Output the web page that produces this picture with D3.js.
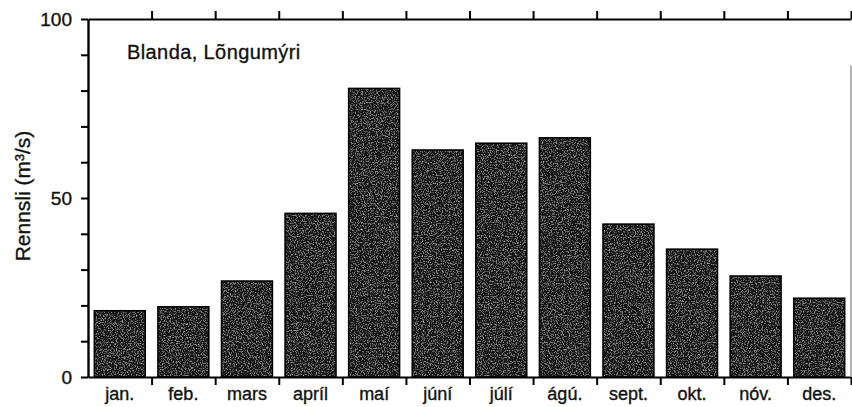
<!DOCTYPE html>
<html>
<head>
<meta charset="utf-8">
<script src="https://cdn.jsdelivr.net/npm/d3@7"></script>
<style>
  html, body { margin: 0; padding: 0; background: #fff; }
  svg { display: block; }
  text { font-family: "Liberation Sans", Arial, Helvetica, sans-serif; fill: #111; stroke: #111; stroke-width: 0.35px; }
</style>
</head>
<body>
<svg id="chart" width="852" height="407"></svg>
<script>
// Mean monthly discharge, Blanda at Löngumýri
const months = ["jan.", "feb.", "mars", "apríl", "maí", "júní", "júlí", "ágú.", "sept.", "okt.", "nóv.", "des."];
const flow = [18.5, 19.6, 26.8, 45.7, 80.6, 63.4, 65.3, 66.8, 42.7, 35.7, 28.2, 22.0];
const yTicks = [0, 10, 20, 30, 40, 50, 60, 70, 80, 90, 100];
const yLabels = [0, 50, 100];
const title = "Blanda, Lõngumýri";
const yTitle = "Rennsli (m³/s)";

const svg = d3.select("#chart");
const plotLeft = 88, plotRight = 851, plotTop = 19, plotBottom = 377;

const x = d3.scaleBand().domain(months).range([plotLeft, plotRight])
  .paddingInner(0.2).paddingOuter(0.1);
const y = d3.scaleLinear().domain([0, 100]).range([plotBottom, plotTop]);
// month boundaries for the tick marks on top and bottom edges
const xb = d3.scaleLinear().domain([0, months.length]).range([plotLeft, plotRight]);

// grainy fill for the bars
const defs = svg.append("defs");
const f = defs.append("filter").attr("id", "grain")
  .attr("x", 0).attr("y", 0).attr("width", 1).attr("height", 1);
f.append("feTurbulence").attr("type", "fractalNoise").attr("baseFrequency", 0.85)
  .attr("numOctaves", 2).attr("seed", 7).attr("result", "noise");
f.append("feColorMatrix").attr("in", "noise").attr("type", "matrix")
  .attr("values", "0 0 0 0 0.55  0 0 0 0 0.55  0 0 0 0 0.55  2.2 0 0 0 -1.12")
  .attr("result", "dots");
f.append("feComposite").attr("in", "dots").attr("in2", "SourceGraphic")
  .attr("operator", "in").attr("result", "clipped");
const m = f.append("feMerge");
m.append("feMergeNode").attr("in", "SourceGraphic");
m.append("feMergeNode").attr("in", "clipped");

// bars
const bars = svg.append("g");
bars.selectAll("rect.fill").data(months).join("rect")
  .attr("class", "fill")
  .attr("x", d => x(d))
  .attr("y", (d, i) => y(flow[i]))
  .attr("width", x.bandwidth())
  .attr("height", (d, i) => y(0) - y(flow[i]))
  .attr("fill", "#141414")
  .attr("filter", "url(#grain)");
bars.selectAll("rect.edge").data(months).join("rect")
  .attr("class", "edge")
  .attr("x", d => x(d))
  .attr("y", (d, i) => y(flow[i]))
  .attr("width", x.bandwidth())
  .attr("height", (d, i) => y(0) - y(flow[i]))
  .attr("fill", "none")
  .attr("stroke", "#000")
  .attr("stroke-width", 1.6);

// y axis
const yAxis = svg.append("g").attr("transform", `translate(${plotLeft},0)`)
  .call(d3.axisLeft(y).tickValues(yTicks)
    .tickFormat(d => yLabels.includes(d) ? d : "")
    .tickSize(7).tickPadding(9).tickSizeOuter(0));
yAxis.select(".domain").attr("stroke", "#000").attr("stroke-width", 2.4);
yAxis.selectAll(".tick line").attr("stroke", "#000").attr("stroke-width", 2);
yAxis.selectAll(".tick text").attr("font-size", 19).attr("fill", "#111")
  .attr("font-family", "Liberation Sans, Arial, sans-serif");

// bottom axis: month labels
const xAxis = svg.append("g").attr("transform", `translate(0,${plotBottom})`)
  .call(d3.axisBottom(x).tickSize(0).tickPadding(10));
xAxis.select(".domain").remove();
xAxis.selectAll(".tick text").attr("font-size", 18).attr("fill", "#111")
  .attr("font-family", "Liberation Sans, Arial, sans-serif");

// bottom and top edges with boundary ticks
const bAxis = svg.append("g").attr("transform", `translate(0,${plotBottom})`)
  .call(d3.axisBottom(xb).tickValues(d3.range(1, months.length + 1))
    .tickFormat("").tickSize(8).tickSizeOuter(0));
bAxis.select(".domain").attr("stroke", "#000").attr("stroke-width", 2);
bAxis.selectAll(".tick line").attr("stroke", "#000").attr("stroke-width", 2);

const tAxis = svg.append("g").attr("transform", `translate(0,${plotTop})`)
  .call(d3.axisTop(xb).tickValues(d3.range(1, months.length + 1))
    .tickFormat("").tickSize(8).tickSizeOuter(0));
tAxis.select(".domain").attr("stroke", "#000").attr("stroke-width", 2);
tAxis.selectAll(".tick line").attr("stroke", "#000").attr("stroke-width", 2);

// faint right edge
svg.append("line").attr("x1", plotRight).attr("x2", plotRight)
  .attr("y1", y(87)).attr("y2", plotBottom)
  .attr("stroke", "#999").attr("stroke-width", 1.5);

// station name
svg.append("text").attr("x", plotLeft + 39).attr("y", 59)
  .attr("font-size", 20).attr("letter-spacing", 0.4)
  .text(title);

// y axis title
svg.append("text")
  .attr("transform", `translate(30,196) rotate(-90)`)
  .attr("text-anchor", "middle").attr("font-size", 21)
  .text(yTitle);
</script>
</body>
</html>
